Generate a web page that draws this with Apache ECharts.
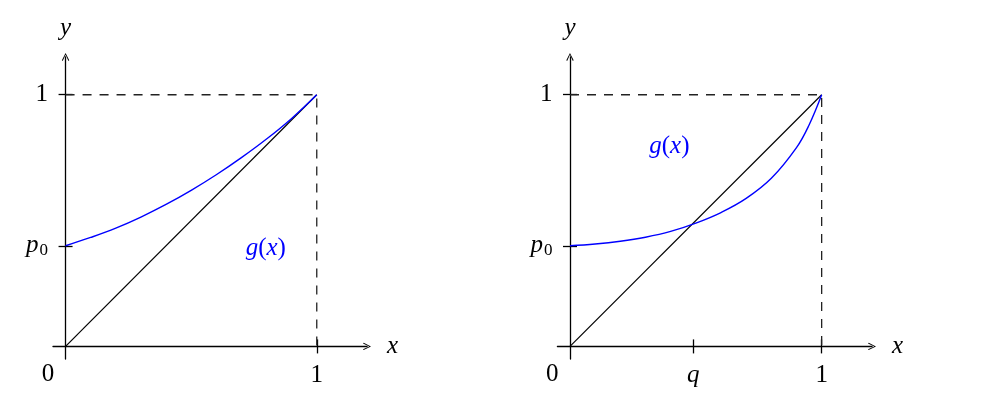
<!DOCTYPE html>
<html lang="en">
<head>
<meta charset="UTF-8">
<title>g(x)</title>
<style>
  html, body { margin: 0; padding: 0; background: #fff; }
  #chart { width: 983px; height: 407px; }
</style>
</head>
<body>
<div id="chart"></div>
<script src="https://cdn.jsdelivr.net/npm/echarts@6/dist/echarts.min.js"></script>
<script>
// values
var p0 = 0.40;
var q = 0.49;

var leftX  = [0, 0.1, 0.2, 0.3, 0.4, 0.5, 0.6, 0.7, 0.8, 0.9, 1.0];
var leftG  = [0.400, 0.433, 0.470, 0.514, 0.564, 0.620, 0.682, 0.750, 0.824, 0.906, 1.000];

var rightX = [0, 0.1, 0.2, 0.3, 0.4, 0.5, 0.6, 0.7, 0.8, 0.9, 0.95, 1.0];
var rightG = [0.400, 0.407, 0.418, 0.434, 0.457, 0.490, 0.532, 0.588, 0.668, 0.790, 0.880, 1.000];

var diagX = [0, 1];
var diagY = [0, 1];
var dashX = [0, 1, 1];
var dashY = [1, 1, 0];

var leftXTicks = [1];
var rightXTicks = [q, 1];
var yTicks = [p0, 1];

// annotations: [x, y, text]
var leftNotes  = [[-0.07, -0.11, '0'], [0.797, 0.39, 'g(x)']];
var rightNotes = [[-0.07, -0.11, '0'], [0.395, 0.794, 'g(x)']];

var FONT = '"Liberation Serif", serif';
var FS = 25;
var xMin = -0.05, xMax = 1.2, yMin = -0.05, yMax = 1.15;
var arrow = 'path://M0,10 L5,0 L10,10 L8.9,10.9 L5,2.4 L1.1,10.9 Z';

function zip(xs, ys) {
        var out = [];
        for (var i = 0; i < xs.length; i++) {
                out.push([xs[i], ys[i]]);
        }
        return out;
}

var richText = {
        i: { fontFamily: FONT, fontStyle: 'italic', fontSize: FS, color: '#000' },
        n: { fontFamily: FONT, fontSize: FS, color: '#000' },
        s: { fontFamily: FONT, fontSize: 17, color: '#000', padding: [9, 0, 0, 1] },
        bi: { fontFamily: FONT, fontStyle: 'italic', fontSize: FS, color: '#0000ff' },
        bn: { fontFamily: FONT, fontSize: FS, color: '#0000ff' }
};

function xLabel(v) {
        if (v === 1) return '{n|1}';
        if (v === q) return '{i|q}';
        return '';
}

function yLabel(v) {
        if (v === 1) return '{n|1}';
        return '{i|p}{s|0}';
}

var axisStroke = { color: '#000', width: 1.3 };

function mainX(g, ticks) {
        return {
                gridIndex: g, type: 'value', min: xMin, max: xMax, position: 'bottom',
                axisLine: { onZero: true, symbol: ['none', arrow], symbolSize: [11, 8], lineStyle: axisStroke },
                axisTick: { show: true, customValues: ticks, length: 7, lineStyle: axisStroke },
                axisLabel: { customValues: ticks, formatter: xLabel, margin: 4, color: '#000', rich: richText },
                splitLine: { show: false },
                name: 'x', nameLocation: 'end', nameGap: 20,
                nameTextStyle: { fontFamily: FONT, fontStyle: 'italic', fontSize: FS, color: '#000',
                        verticalAlign: 'middle', padding: [0, 0, 5, 0] }
        };
}

function innerX(g, ticks) {
        return {
                gridIndex: g, type: 'value', min: xMin, max: xMax, position: 'bottom',
                axisLine: { show: false, onZero: true },
                axisTick: { show: true, inside: true, customValues: ticks, length: 7, lineStyle: axisStroke },
                axisLabel: { show: false },
                splitLine: { show: false }
        };
}

function mainY(g) {
        return {
                gridIndex: g, type: 'value', min: yMin, max: yMax, position: 'left',
                axisLine: { onZero: true, symbol: ['none', arrow], symbolSize: [11, 8], lineStyle: axisStroke },
                axisTick: { show: true, customValues: yTicks, length: 7, lineStyle: axisStroke },
                axisLabel: { customValues: yTicks, formatter: yLabel, margin: 5, color: '#000', rich: richText },
                splitLine: { show: false },
                name: 'y', nameLocation: 'end', nameGap: 16,
                nameTextStyle: { fontFamily: FONT, fontStyle: 'italic', fontSize: FS, color: '#000' }
        };
}

function innerY(g) {
        return {
                gridIndex: g, type: 'value', min: yMin, max: yMax, position: 'left',
                axisLine: { show: false, onZero: true },
                axisTick: { show: true, inside: true, customValues: yTicks, length: 7, lineStyle: axisStroke },
                axisLabel: { show: false },
                splitLine: { show: false }
        };
}

function panelSeries(ax, curveX, curveY, notes) {
        return [{
                type: 'line', xAxisIndex: ax, yAxisIndex: ax, data: zip(dashX, dashY),
                showSymbol: false, silent: true,
                lineStyle: { color: '#222', width: 1.3, type: [9, 8] }
        }, {
                type: 'line', xAxisIndex: ax, yAxisIndex: ax, data: zip(diagX, diagY),
                showSymbol: false, silent: true,
                lineStyle: { color: '#000', width: 1.2 }
        }, {
                type: 'line', xAxisIndex: ax, yAxisIndex: ax, data: zip(curveX, curveY),
                showSymbol: false, silent: true, smooth: 0.4,
                lineStyle: { color: '#0000ff', width: 1.4 }
        }, {
                type: 'scatter', xAxisIndex: ax, yAxisIndex: ax, data: notes,
                symbolSize: 1, silent: true, clip: false,
                itemStyle: { color: 'transparent', opacity: 1 },
                label: {
                        show: true, position: 'inside', color: '#000', opacity: 1,
                        formatter: function (p) {
                                if (p.data[2] === 'g(x)') return '{bi|g}{bn|(}{bi|x}{bn|)}';
                                return '{n|' + p.data[2] + '}';
                        },
                        rich: richText
                }
        }];
}

var chart = echarts.init(document.getElementById('chart'));

var option = {
        animation: false,
        backgroundColor: '#fff',
        grid: [
                { left: 53, top: 57, width: 314, height: 302, outerBoundsMode: 'none' },
                { left: 557.4, top: 57, width: 314.6, height: 302, outerBoundsMode: 'none' }
        ],
        xAxis: [mainX(0, leftXTicks), innerX(0, leftXTicks), mainX(1, rightXTicks), innerX(1, rightXTicks)],
        yAxis: [mainY(0), innerY(0), mainY(1), innerY(1)],
        series: []
};

// inner-tick axes have no series of their own, axis 0 and 2 carry the data
option.series = option.series
        .concat(panelSeries(0, leftX, leftG, leftNotes))
        .concat(panelSeries(2, rightX, rightG, rightNotes));

chart.setOption(option);
</script>
</body>
</html>
